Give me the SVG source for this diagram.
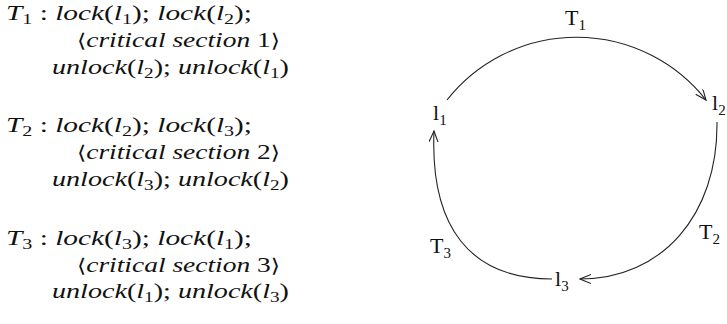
<svg xmlns="http://www.w3.org/2000/svg" width="727" height="324" viewBox="0 0 727 324">
<style>
.m{font-family:"Liberation Serif",serif;font-size:22px;font-style:italic;fill:#111}
.r{font-style:normal}
.b{font-family:"DejaVu Serif",serif;font-style:normal;font-size:19px}
.s{font-size:15px;font-style:normal}
.lab{font-family:"Liberation Serif",serif;font-size:22px;fill:#111}
.ls{font-size:15px}
.edge{fill:none;stroke:#222;stroke-width:1.1}
</style>
<defs>
<marker id="ah" markerWidth="12" markerHeight="10" refX="11" refY="4.5" orient="auto" markerUnits="userSpaceOnUse">
<path d="M0,0 L11,4.5 L0,9" fill="none" stroke="#222" stroke-width="1.1"/>
</marker>
</defs>
<g id="code">
<g id="t1">
<text class="m" x="6" y="20" textLength="246" lengthAdjust="spacingAndGlyphs">T<tspan class="s" dy="4">1</tspan><tspan class="r" dy="-4"> : </tspan>lock<tspan class="r">(</tspan>l<tspan class="s" dy="4">1</tspan><tspan class="r" dy="-4">); </tspan>lock<tspan class="r">(</tspan>l<tspan class="s" dy="4">2</tspan><tspan class="r" dy="-4">);</tspan></text>
<text class="m" x="77" y="46.5" textLength="203" lengthAdjust="spacingAndGlyphs"><tspan class="b">⟨</tspan>critical section <tspan class="r">1</tspan><tspan class="b">⟩</tspan></text>
<text class="m" x="52" y="74" textLength="237" lengthAdjust="spacingAndGlyphs">unlock<tspan class="r">(</tspan>l<tspan class="s" dy="4">2</tspan><tspan class="r" dy="-4">); </tspan>unlock<tspan class="r">(</tspan>l<tspan class="s" dy="4">1</tspan><tspan class="r" dy="-4">)</tspan></text>
</g>
<g id="t2">
<text class="m" x="6" y="132" textLength="246" lengthAdjust="spacingAndGlyphs">T<tspan class="s" dy="4">2</tspan><tspan class="r" dy="-4"> : </tspan>lock<tspan class="r">(</tspan>l<tspan class="s" dy="4">2</tspan><tspan class="r" dy="-4">); </tspan>lock<tspan class="r">(</tspan>l<tspan class="s" dy="4">3</tspan><tspan class="r" dy="-4">);</tspan></text>
<text class="m" x="77" y="158.5" textLength="203" lengthAdjust="spacingAndGlyphs"><tspan class="b">⟨</tspan>critical section <tspan class="r">2</tspan><tspan class="b">⟩</tspan></text>
<text class="m" x="52" y="186" textLength="237" lengthAdjust="spacingAndGlyphs">unlock<tspan class="r">(</tspan>l<tspan class="s" dy="4">3</tspan><tspan class="r" dy="-4">); </tspan>unlock<tspan class="r">(</tspan>l<tspan class="s" dy="4">2</tspan><tspan class="r" dy="-4">)</tspan></text>
</g>
<g id="t3">
<text class="m" x="6" y="245" textLength="246" lengthAdjust="spacingAndGlyphs">T<tspan class="s" dy="4">3</tspan><tspan class="r" dy="-4"> : </tspan>lock<tspan class="r">(</tspan>l<tspan class="s" dy="4">3</tspan><tspan class="r" dy="-4">); </tspan>lock<tspan class="r">(</tspan>l<tspan class="s" dy="4">1</tspan><tspan class="r" dy="-4">);</tspan></text>
<text class="m" x="77" y="271.5" textLength="203" lengthAdjust="spacingAndGlyphs"><tspan class="b">⟨</tspan>critical section <tspan class="r">3</tspan><tspan class="b">⟩</tspan></text>
<text class="m" x="52" y="298" textLength="237" lengthAdjust="spacingAndGlyphs">unlock<tspan class="r">(</tspan>l<tspan class="s" dy="4">1</tspan><tspan class="r" dy="-4">); </tspan>unlock<tspan class="r">(</tspan>l<tspan class="s" dy="4">3</tspan><tspan class="r" dy="-4">)</tspan></text>
</g>
</g>
<g id="connectors">
<path class="edge" d="M447,100 A165,165 0 0 1 706,100" marker-end="url(#ah)"/>
<path class="edge" d="M717,122 C718,215 662,279 580,279" marker-end="url(#ah)"/>
<path class="edge" d="M552,279 C470,279 430,227 434,131" marker-end="url(#ah)"/>
</g>
<g id="l1"><text class="lab" x="433" y="120">l<tspan class="ls" dy="5">1</tspan></text></g>
<g id="l2"><text class="lab" x="712" y="110">l<tspan class="ls" dy="5">2</tspan></text></g>
<g id="l3"><text class="lab" x="555" y="286">l<tspan class="ls" dy="5">3</tspan></text></g>
<g id="T1"><text class="lab" x="565" y="25">T<tspan class="ls" dy="5">1</tspan></text></g>
<g id="T2"><text class="lab" x="699" y="239">T<tspan class="ls" dy="5">2</tspan></text></g>
<g id="T3"><text class="lab" x="430" y="253">T<tspan class="ls" dy="5">3</tspan></text></g>
</svg>
